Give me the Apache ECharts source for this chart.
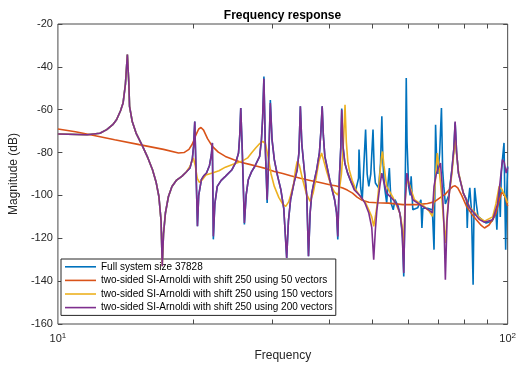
<!DOCTYPE html>
<html>
<head>
<meta charset="utf-8">
<script src="https://cdn.jsdelivr.net/npm/echarts@6/dist/echarts.min.js"></script>
<style>
  html, body { margin: 0; padding: 0; background: #fff; }
  #chart { width: 519px; height: 367px; }
</style>
</head>
<body>
<div id="chart"></div>
<script>
// Series labels
const seriesNames = [
  'Full system size 37828',
  'two-sided SI-Arnoldi with shift 250 using 50 vectors',
  'two-sided SI-Arnoldi with shift 250 using 150 vectors',
  'two-sided SI-Arnoldi with shift 250 using 200 vectors'
];

// Axis ticks
const magnitudeTicks = [-160, -140, -120, -100, -80, -60, -40, -20];
const freqDecades = [10, 100];
const freqMinorTicks = [20, 30, 40, 50, 60, 70, 80, 90];

// [frequency, magnitude dB]
const arnoldi200 = [
  [10,-71.3],[11.62,-71.7],[12.40,-71.0],[12.84,-69.3],[13.24,-67.0],[13.50,-64.7],[13.78,-60.5],[13.96,-56.9],
  [14.13,-48.0],[14.27,-34.3],[14.38,-48.0],[14.43,-58.4],[14.63,-65.5],[14.92,-70.9],[15.43,-77.1],[15.85,-82.5],
  [16.23,-88.0],[16.54,-94.0],[16.77,-100.5],[16.96,-112.0],[17.06,-133.0],[17.17,-118.0],[17.34,-108.2],[17.61,-100.5],
  [17.93,-95.8],[18.33,-93.0],[18.86,-91.1],[19.27,-89.2],[19.66,-87.2],[19.90,-83.0],[20.03,-77.0],[20.15,-65.5],
  [20.29,-90.0],[20.43,-114.4],[20.56,-100.0],[20.84,-92.7],[21.08,-91.0],[21.40,-89.5],[21.73,-86.0],[21.94,-81.0],
  [22.05,-75.5],[22.16,-119.1],[22.33,-104.0],[22.61,-95.8],[23.07,-93.0],[23.57,-91.1],[24.38,-88.0],[24.87,-84.5],
  [25.21,-80.2],[25.37,-72.0],[25.50,-59.2],[25.69,-78.0],[25.98,-112.9],[26.21,-100.0],[26.50,-92.7],[26.94,-89.0],
  [27.39,-86.5],[28.09,-81.8],[28.35,-74.0],[28.52,-64.0],[28.71,-45.5],[28.94,-80.0],[29.19,-102.0],[29.45,-80.0],
  [29.67,-56.9],[29.93,-74.0],[30.28,-83.3],[30.76,-90.5],[31.31,-97.3],[31.78,-106.0],[32.26,-129.2],[32.55,-112.0],
  [32.91,-102.0],[33.50,-94.0],[34.04,-88.0],[34.35,-80.0],[34.60,-58.4],[34.86,-76.0],[35.30,-88.0],[35.75,-100.0],
  [36.07,-128.4],[36.38,-108.0],[36.69,-98.9],[37.21,-92.5],[37.62,-88.0],[38.15,-80.0],[38.44,-70.0],[38.69,-58.4],
  [38.92,-72.0],[39.22,-81.8],[40.21,-92.7],[41.23,-102.0],[41.64,-108.0],[41.91,-119.1],[42.10,-103.0],[42.27,-91.1],
  [42.55,-78.0],[42.76,-60.0],[43.09,-78.0],[43.46,-85.0],[44.07,-89.6],[45.57,-97.3],[47.12,-100.5],[48.15,-103.5],
  [49.12,-108.2],[49.87,-115.0],[50.37,-130.0],[50.80,-116.0],[51.20,-106.7],[52.08,-94.2],[52.51,-89.6],[53.08,-94.0],
  [53.83,-98.9],[55.67,-102.0],[56.80,-104.5],[57.57,-108.2],[58.23,-116.0],[58.74,-136.2],[59.20,-102.0],[59.71,-89.6],
  [60.46,-96.0],[61.53,-102.0],[64.69,-105.1],[67.00,-107.0],[68.01,-108.2],[68.59,-95.8],[69.39,-90.0],[70.08,-87.5],
  [70.90,-84.9],[71.50,-95.0],[72.22,-115.0],[72.69,-139.3],[73.31,-112.0],[73.93,-102.0],[75.17,-88.0],[75.93,-78.0],
  [76.42,-65.5],[77.00,-80.0],[77.73,-89.6],[79.70,-98.9],[82.38,-105.9],[86.61,-111.3],[88.80,-112.5],[92.61,-111.3],
  [94.96,-104.0],[96.06,-95.0],[97.37,-83.3],[98.25,-84.5],[99.24,-89.6],[100,-87.0]
];

const arnoldi150 = [
  [10,-71.3],[11.62,-71.7],[12.40,-71.0],[12.84,-69.3],[13.24,-67.0],[13.50,-64.7],[13.78,-60.5],[13.96,-56.9],
  [14.13,-48.0],[14.27,-34.3],[14.38,-48.0],[14.43,-58.4],[14.63,-65.5],[14.92,-70.9],[15.43,-77.1],[15.85,-82.5],
  [16.23,-88.0],[16.54,-94.0],[16.77,-100.5],[16.96,-112.0],[17.06,-133.0],[17.17,-118.0],[17.34,-108.2],[17.61,-100.5],
  [17.93,-95.8],[18.33,-93.0],[18.86,-91.1],[19.27,-89.2],[19.66,-86.5],[19.90,-83.5],[20.00,-82.5],[20.20,-86.0],
  [20.41,-92.0],[20.63,-93.9],[20.98,-92.5],[21.33,-90.5],[22.05,-89.5],[22.81,-88.5],[23.57,-86.8],[24.62,-85.3],
  [25.63,-84.1],[26.41,-82.5],[26.94,-80.2],[27.49,-78.0],[28.04,-76.0],[28.57,-74.8],[28.94,-76.0],[29.34,-82.0],
  [29.78,-90.0],[30.28,-95.8],[31.00,-101.0],[31.62,-104.0],[32.10,-105.1],[32.59,-103.0],[32.91,-100.0],[33.46,-94.2],
  [33.75,-88.0],[34.04,-84.1],[34.43,-86.0],[34.95,-92.0],[35.66,-99.0],[36.38,-102.8],[36.93,-99.0],[37.49,-92.0],
  [38.06,-84.0],[38.57,-80.2],[39.02,-84.0],[39.61,-89.0],[40.55,-95.8],[41.23,-98.5],[41.91,-99.7],[42.27,-97.0],
  [42.70,-90.0],[43.02,-80.0],[43.30,-68.0],[43.49,-57.7],[43.78,-75.0],[44.11,-84.0],[44.44,-88.0],[45.12,-93.0],
  [45.96,-97.3],[47.19,-101.0],[48.32,-103.5],[49.12,-106.7],[49.87,-110.0],[50.37,-114.4],[50.87,-109.0],[51.20,-105.1],
  [51.64,-97.0],[52.08,-88.0],[52.42,-82.0],[52.69,-79.5],[53.08,-86.0],[53.83,-95.8],[55.67,-101.2],[57.57,-108.2],
  [58.23,-114.0],[58.74,-123.8],[59.12,-104.0],[59.50,-95.5],[60.01,-92.7],[60.92,-97.0],[62.06,-102.0],[65.24,-105.1],
  [67.00,-107.5],[68.01,-109.8],[68.69,-100.0],[69.32,-88.0],[69.73,-80.2],[70.43,-88.0],[71.32,-100.0],[72.04,-112.0],
  [72.69,-122.2],[73.31,-110.0],[74.05,-100.0],[75.17,-90.0],[76.42,-74.0],[77.73,-89.0],[79.70,-99.0],[82.38,-105.5],
  [86.61,-110.5],[88.80,-112.0],[92.61,-110.0],[94.16,-104.0],[95.73,-95.8],[97.03,-97.0],[98.50,-100.0],[100,-103.5]
];

const arnoldi50 = [
  [10,-69.0],[10.94,-70.3],[11.81,-71.7],[13.37,-74.0],[15.17,-76.3],[17.17,-78.5],[18.54,-80.2],[19.07,-80.0],
  [19.56,-78.5],[19.90,-76.0],[20.25,-72.0],[20.56,-69.0],[20.80,-68.3],[21.08,-69.5],[21.51,-73.5],[22.05,-77.1],
  [22.73,-79.8],[23.57,-81.8],[24.62,-83.3],[25.63,-84.6],[26.67,-85.5],[27.86,-86.5],[29.04,-87.5],[30.28,-88.8],
  [31.62,-89.8],[32.91,-90.8],[34.60,-92.0],[36.38,-93.0],[38.25,-94.0],[40.21,-95.0],[41.64,-95.6],[42.98,-96.5],
  [44.00,-97.5],[45.19,-98.9],[46.26,-100.8],[47.50,-102.3],[49.12,-103.2],[51.20,-103.4],[54.29,-103.6],[58.53,-104.3],
  [63.09,-104.3],[66.33,-103.8],[68.69,-103.0],[70.79,-101.0],[72.58,-99.5],[74.05,-97.5],[75.55,-95.8],[76.42,-95.5],
  [77.46,-96.5],[79.03,-100.0],[81.03,-105.1],[83.08,-108.5],[85.19,-111.3],[87.35,-114.0],[88.80,-115.2],[90.92,-113.8],
  [92.76,-111.0],[94.16,-108.5],[95.58,-103.0],[97.03,-98.5],[98.50,-100.0],[100,-105.0]
];

const fullSystem = [
  [10,-71.3],[11.62,-71.7],[12.40,-71.0],[12.84,-69.3],[13.24,-67.0],[13.50,-64.7],[13.78,-60.5],[13.96,-56.9],
  [14.13,-48.0],[14.27,-34.3],[14.38,-48.0],[14.43,-58.4],[14.63,-65.5],[14.92,-70.9],[15.43,-77.1],[15.85,-82.5],
  [16.23,-88.0],[16.54,-94.0],[16.77,-100.5],[16.96,-112.0],[17.06,-133.0],[17.17,-118.0],[17.34,-108.2],[17.61,-100.5],
  [17.93,-95.8],[18.33,-93.0],[18.86,-91.1],[19.27,-89.2],[19.66,-87.2],[19.90,-83.0],[20.03,-77.0],[20.15,-65.5],
  [20.29,-90.0],[20.43,-114.4],[20.56,-100.0],[20.84,-92.7],[21.08,-91.0],[21.40,-89.5],[21.73,-86.0],[21.94,-81.0],
  [22.05,-75.5],[22.16,-120.5],[22.33,-104.0],[22.61,-95.8],[23.07,-93.0],[23.57,-91.1],[24.38,-88.0],[24.87,-84.5],
  [25.21,-80.2],[25.37,-72.0],[25.50,-59.2],[25.69,-78.0],[25.98,-113.5],[26.21,-100.0],[26.50,-92.7],[26.94,-89.0],
  [27.39,-86.5],[28.09,-81.8],[28.35,-74.0],[28.52,-64.0],[28.71,-44.5],[28.94,-80.0],[29.19,-103.5],[29.45,-80.0],
  [29.67,-55.5],[29.93,-74.0],[30.28,-83.3],[30.76,-90.5],[31.31,-97.3],[31.78,-106.0],[32.26,-129.2],[32.55,-112.0],
  [32.91,-102.0],[33.50,-94.0],[34.04,-88.0],[34.35,-80.0],[34.60,-58.4],[34.86,-76.0],[35.30,-88.0],[35.75,-100.0],
  [36.07,-128.4],[36.38,-108.0],[36.69,-98.9],[37.21,-92.5],[37.62,-88.0],[38.15,-80.0],[38.44,-70.0],[38.69,-58.4],
  [38.92,-72.0],[39.22,-81.8],[40.21,-92.7],[41.23,-102.0],[41.64,-108.0],[41.91,-120.5],[42.10,-103.0],[42.27,-91.1],
  [42.55,-78.0],[42.76,-59.5],[43.09,-78.0],[43.46,-85.0],[44.07,-89.6],[44.89,-94.0],[45.96,-97.3],[46.61,-92.0],
  [46.72,-78.6],[46.96,-90.0],[47.12,-96.5],[47.50,-102.0],[47.79,-90.0],[48.32,-69.3],[48.71,-90.0],[49.12,-95.8],
  [49.62,-90.0],[50.19,-69.3],[50.50,-88.0],[50.80,-94.2],[51.64,-96.5],[52.16,-85.0],[52.51,-63.1],[52.82,-85.0],
  [53.22,-95.8],[53.83,-103.5],[54.16,-95.0],[54.57,-87.2],[55.03,-103.5],[55.67,-106.7],[56.15,-102.0],[57.08,-105.0],
  [57.80,-110.0],[58.38,-120.0],[58.74,-137.8],[59.06,-110.0],[59.30,-80.0],[59.50,-45.2],[59.74,-75.0],[60.22,-95.8],
  [60.71,-100.0],[61.01,-91.1],[61.32,-100.0],[61.53,-106.7],[63.09,-105.8],[64.14,-102.0],[64.47,-115.2],[64.79,-106.0],
  [66.33,-106.0],[68.01,-106.7],[68.59,-125.3],[68.87,-100.0],[69.14,-67.0],[69.56,-85.0],[69.98,-90.0],[70.61,-80.0],
  [71.25,-59.2],[71.68,-88.0],[72.11,-95.8],[72.69,-104.0],[73.93,-100.0],[75.17,-88.0],[75.93,-78.0],[76.42,-66.0],
  [77.00,-80.0],[77.73,-89.6],[79.70,-98.9],[81.03,-102.0],[81.31,-115.2],[81.64,-104.0],[82.38,-96.5],[82.88,-104.0],
  [83.08,-106.7],[83.79,-141.7],[84.13,-110.0],[84.47,-96.5],[85.19,-104.0],[85.91,-109.8],[89.56,-112.9],[92.29,-112.0],
  [94.16,-108.0],[94.63,-116.0],[95.11,-104.0],[95.73,-97.3],[96.30,-110.0],[96.79,-90.0],[97.37,-83.3],[98.15,-75.5],
  [98.55,-100.0],[98.99,-125.3],[99.49,-100.0],[100,-86.5]
];

const seriesData = [fullSystem, arnoldi50, arnoldi150, arnoldi200];
const seriesColors = ['#0072BD', '#D95319', '#EDB120', '#7E2F8E'];

const FONT = '"Liberation Sans", Arial, Helvetica, sans-serif';
const AXIS_GRAY = '#4a4a4a';
const TEXT_GRAY = '#262626';
const GRID = { left: 52, right: 7, top: 24, bottom: 43 };
const TICK_LEN = 4.5;

const chart = echarts.init(document.getElementById('chart'), null, { renderer: 'canvas' });

const yAxisBase = {
  type: 'value',
  min: magnitudeTicks[0],
  max: magnitudeTicks[magnitudeTicks.length - 1],
  interval: magnitudeTicks[1] - magnitudeTicks[0],
  axisLine: { show: false },
  splitLine: { show: false },
  axisTick: { show: true, inside: true, length: TICK_LEN, lineStyle: { color: AXIS_GRAY, width: 1 } }
};

const option = {
  animation: false,
  backgroundColor: '#ffffff',
  textStyle: { fontFamily: FONT },
  title: {
    text: 'Frequency response',
    left: 277.5,
    top: 5,
    textAlign: 'center',
    textStyle: { fontFamily: FONT, fontSize: 12, fontWeight: 'bold', color: '#000' }
  },
  grid: {
    left: GRID.left, right: GRID.right, top: GRID.top, bottom: GRID.bottom,
    show: true, borderColor: AXIS_GRAY, borderWidth: 1, backgroundColor: 'transparent'
  },
  legend: {
    data: seriesNames,
    orient: 'vertical',
    left: 61,
    top: 259,
    icon: 'rect',
    itemWidth: 31,
    itemHeight: 1.6,
    itemGap: 0,
    padding: [1, 3, 1, 4],
    backgroundColor: '#ffffff',
    borderColor: '#262626',
    borderWidth: 1,
    borderRadius: 0,
    selectedMode: false,
    textStyle: { fontFamily: FONT, fontSize: 10, color: '#000', lineHeight: 13.6, padding: [0, 0, 0, 0] }
  },
  xAxis: {
    type: 'log',
    logBase: 10,
    min: freqDecades[0],
    max: freqDecades[1],
    name: 'Frequency',
    nameLocation: 'middle',
    nameGap: 25,
    nameTextStyle: { fontFamily: FONT, fontSize: 12, color: TEXT_GRAY },
    axisLine: { show: false },
    axisTick: { show: false },
    splitLine: { show: false },
    axisLabel: {
      margin: 8,
      showMinLabel: true,
      showMaxLabel: true,
      formatter: function (v) {
        return '{b|10}{s|' + Math.round(Math.log10(v)) + '}';
      },
      rich: {
        b: { fontFamily: FONT, fontSize: 11, color: TEXT_GRAY, lineHeight: 14 },
        s: { fontFamily: FONT, fontSize: 8, color: TEXT_GRAY, lineHeight: 8, verticalAlign: 'top' }
      }
    }
  },
  yAxis: [
    Object.assign({}, yAxisBase, {
      position: 'left',
      name: 'Magnitude (dB)',
      nameLocation: 'middle',
      nameGap: 31,
      nameRotate: 90,
      nameTextStyle: { fontFamily: FONT, fontSize: 12, color: TEXT_GRAY },
      axisLabel: { margin: 5, fontFamily: FONT, fontSize: 11, color: TEXT_GRAY }
    }),
    Object.assign({}, yAxisBase, {
      position: 'right',
      axisLabel: { show: false }
    })
  ],
  series: seriesData.map(function (data, i) {
    return {
      name: seriesNames[i],
      type: 'line',
      data: data,
      yAxisIndex: 0,
      symbol: 'none',
      smooth: false,
      clip: true,
      z: 2 + i,
      color: seriesColors[i],
      lineStyle: { color: seriesColors[i], width: 1.6 }
    };
  })
};

chart.setOption(option);

// Minor ticks at 20..90 on the bottom and top edges of the plot box
const plotBottom = 367 - GRID.bottom;
const plotTop = GRID.top;
const tickGraphics = [];
freqMinorTicks.forEach(function (f) {
  const x = Math.round(chart.convertToPixel({ xAxisIndex: 0 }, f)) + 0.5;
  tickGraphics.push({
    type: 'line', silent: true, z: 100,
    shape: { x1: x, y1: plotBottom, x2: x, y2: plotBottom - TICK_LEN },
    style: { stroke: AXIS_GRAY, lineWidth: 1 }
  });
  tickGraphics.push({
    type: 'line', silent: true, z: 100,
    shape: { x1: x, y1: plotTop, x2: x, y2: plotTop + TICK_LEN },
    style: { stroke: AXIS_GRAY, lineWidth: 1 }
  });
});
chart.setOption({ graphic: tickGraphics });
</script>
</body>
</html>
